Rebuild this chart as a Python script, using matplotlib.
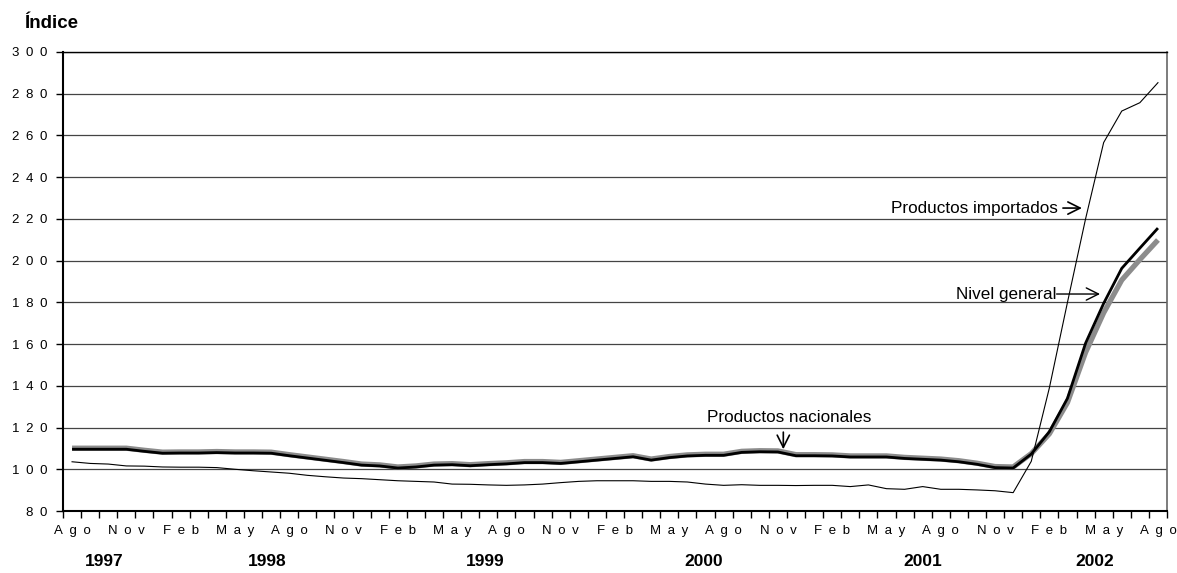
import matplotlib
matplotlib.use("Agg")
import matplotlib.pyplot as plt
import numpy as np

plt.rcParams['font.family'] = ['Liberation Sans', 'DejaVu Sans']

# ---- data (monthly, Ago 1997 .. Ago 2002) ----
nivel_general = [109.6, 109.6, 109.6, 109.6, 108.6, 107.7, 107.8, 107.8, 108.0, 107.8,
                 107.8, 107.7, 106.5, 105.4, 104.3, 103.2, 102.0, 101.6, 100.6, 101.1,
                 102.0, 102.2, 101.7, 102.2, 102.6, 103.2, 103.2, 102.8, 103.6, 104.4,
                 105.2, 106.0, 104.4, 105.6, 106.4, 106.7, 106.7, 108.1, 108.4, 108.3,
                 106.5, 106.5, 106.4, 105.9, 105.9, 105.9, 105.2, 104.8, 104.4, 103.6,
                 102.4, 100.8, 100.6, 107.3, 118.0, 134.0, 160.4, 179.5, 196.3, 206.0,
                 215.6]
productos_nacionales = [110.1, 110.1, 110.1, 110.1, 109.1, 108.2, 108.3, 108.3, 108.5, 108.3,
                        108.3, 108.2, 107.0, 105.9, 104.8, 103.7, 102.5, 102.1, 101.1, 101.6,
                        102.5, 102.7, 102.2, 102.7, 103.1, 103.7, 103.7, 103.3, 104.1, 104.9,
                        105.7, 106.5, 104.9, 106.1, 106.9, 107.2, 107.2, 108.6, 108.9, 108.8,
                        107.0, 107.0, 106.9, 106.4, 106.4, 106.4, 105.7, 105.3, 104.9, 104.1,
                        102.9, 101.3, 101.1, 107.5, 117.0, 132.0, 156.0, 175.0, 190.7, 200.5,
                        209.9]
productos_importados = [103.6, 102.8, 102.5, 101.6, 101.5, 101.1, 101.0, 101.0, 100.8, 100.0,
                        99.3, 98.7, 98.1, 97.1, 96.4, 95.8, 95.5, 95.0, 94.5, 94.2,
                        93.9, 92.9, 92.8, 92.5, 92.3, 92.5, 92.9, 93.6, 94.2, 94.5,
                        94.5, 94.5, 94.2, 94.2, 93.9, 92.9, 92.3, 92.6, 92.3, 92.3,
                        92.2, 92.3, 92.3, 91.7, 92.5, 90.7, 90.4, 91.7, 90.4, 90.4,
                        90.1, 89.7, 88.8, 103.8, 139.0, 180.0, 220.0, 256.6, 271.7, 275.7,
                        285.3]
month_labels = ["Ago", "Nov", "Feb", "May"] * 5 + ["Ago"]
years = ["1997", "1998", "1999", "2000", "2001", "2002"]
year_pos = [1.8, 10.8, 22.8, 34.9, 47.0, 56.5]
y_ticks = [80, 100, 120, 140, 160, 180, 200, 220, 240, 260, 280, 300]

SP = "\u2002"
def spaced(s):
    return SP.join(list(s))

n = len(nivel_general)
x = np.arange(n)

fig = plt.figure(figsize=(11.77, 5.73), dpi=100)
ax = fig.add_axes([63/1177, 1 - 511/573, (1167-63)/1177, (511-52)/573])

for yv in y_ticks[1:]:
    ax.axhline(yv, color='#444444', lw=0.9, zorder=1)

ax.plot(x, productos_nacionales, color='#8c8c8c', lw=3.8, zorder=3, solid_capstyle='butt')
ax.plot(x, nivel_general, color='black', lw=2.0, zorder=4, solid_capstyle='butt')
ax.plot(x, productos_importados, color='black', lw=0.8, zorder=5)

ax.set_xlim(-0.5, n - 0.5)
ax.set_ylim(80, 300)

ax.set_yticks(y_ticks)
ax.set_yticklabels([spaced(str(v)) for v in y_ticks], fontsize=9.5)
ax.tick_params(axis='y', direction='out', length=5, width=1, pad=6)

ax.set_xticks(np.arange(0, n, 3))
ax.set_xticklabels([spaced(m) for m in month_labels], fontsize=9.5)
ax.set_xticks(np.arange(-0.5, n, 1), minor=True)
ax.tick_params(axis='x', which='major', length=0, pad=10)
ax.tick_params(axis='x', which='minor', direction='out', length=5, width=1)

for s in ['left', 'bottom']:
    ax.spines[s].set_linewidth(1.5)
    ax.spines[s].set_color('black')
ax.spines['right'].set_color('#666666')
ax.spines['right'].set_linewidth(1.2)
ax.spines['top'].set_color('black')
ax.spines['top'].set_linewidth(1.0)

for yr, xp in zip(years, year_pos):
    ax.text(xp, -0.11, yr, transform=ax.get_xaxis_transform(), ha='center', va='center',
            fontsize=12.5, fontweight='bold')

fig.text(24/1177, 1 - 23/573, "Índice", ha='left', va='center', fontsize=13.5, fontweight='bold')

ax.text(39.6, 121.2, "Productos nacionales", ha='center', va='bottom', fontsize=12.3)
ax.annotate("", xy=(39.3, 109.6), xytext=(39.3, 117.8),
            arrowprops=dict(arrowstyle='->', color='black', lw=1.2, mutation_scale=22,
                            shrinkA=0, shrinkB=0))
ax.text(54.45, 225.2, "Productos importados", ha='right', va='center', fontsize=12.3)
ax.annotate("", xy=(55.8, 225.2), xytext=(54.75, 225.2),
            arrowprops=dict(arrowstyle='->', color='black', lw=1.2, mutation_scale=22,
                            shrinkA=0, shrinkB=0))
ax.text(54.4, 184.0, "Nivel general", ha='right', va='center', fontsize=12.3)
ax.annotate("", xy=(56.8, 184.0), xytext=(54.4, 184.0),
            arrowprops=dict(arrowstyle='->', color='black', lw=1.0, mutation_scale=22,
                            shrinkA=0, shrinkB=0))

fig.savefig("out.png", dpi=100, facecolor='white')
